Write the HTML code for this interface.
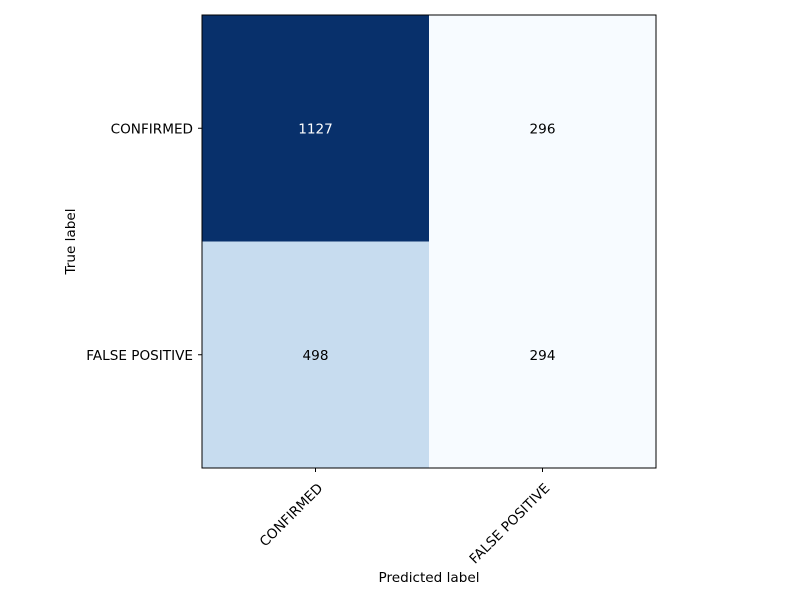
<!DOCTYPE html>
<html><head><meta charset="utf-8"><style>body{margin:0;background:#fff}svg{display:block;font-family:"DejaVu Sans","Liberation Sans",sans-serif}</style></head>
<body>
<svg id="chart" width="800" height="600" viewBox="0 0 800 600"></svg>
<script>
const classLabels = ["CONFIRMED", "FALSE POSITIVE"];
const rowConfirmed = [1127, 296];
const rowFalsePositive = [498, 294];
const matrix = [rowConfirmed, rowFalsePositive];
const NS = "http://www.w3.org/2000/svg";
const svg = document.getElementById("chart");
const L = 202, T = 15, W = 454, H = 453;
const FS = "13.6";
const n = classLabels.length;
const cw = W / n, ch = H / n;
const xc = i => L + cw * (i + 0.5);
const yc = i => T + ch * (i + 0.5);
const stops = ["#f7fbff","#deebf7","#c6dbef","#9ecae1","#6baed6","#4292c6","#2171b5","#08519c","#08306b"];
function hex(c){return [1,3,5].map(k=>parseInt(c.substr(k,2),16));}
function blues(t){t=Math.max(0,Math.min(1,t));const p=t*8,i=Math.min(7,Math.floor(p)),f=p-i;const a=hex(stops[i]),b=hex(stops[i+1]);return "rgb("+a.map((v,k)=>Math.round(v+(b[k]-v)*f)).join(",")+")";}
const all = matrix.flat(), mn = Math.min(...all), mx = Math.max(...all), thresh = mx / 2;
function el(tag, attrs, parent){const e=document.createElementNS(NS,tag);for(const k in attrs)e.setAttribute(k,attrs[k]);(parent||svg).appendChild(e);return e;}
for (let r = 0; r < n; r++) for (let c = 0; c < n; c++) {
  const v = matrix[r][c];
  const rect = el("rect",{x:L+c*cw,y:T+r*ch,width:cw+0.5,height:ch+0.5,fill:blues((v-mn)/(mx-mn))});
  
  
  const t = el("text",{x:xc(c),y:yc(r)+5,"text-anchor":"middle","font-size":FS,fill:v>thresh?"#fff":"#000"});
  t.textContent = v;
  
  
}
const frame = el("rect",{x:L,y:T,width:W,height:H,fill:"none",stroke:"#000","stroke-width":1});


for (let i = 0; i < n; i++) {
  el("line",{x1:xc(i),x2:xc(i),y1:T+H,y2:T+H+4,stroke:"#000"});
  el("line",{x1:L-4,x2:L,y1:yc(i),y2:yc(i),stroke:"#000"});
  const yl = el("text",{x:L-9,y:yc(i)+5,"text-anchor":"end","font-size":FS});
  yl.textContent = classLabels[i];
  
  
  const ax = xc(i)+8, ay = T+H+21;
  const xl = el("text",{x:ax,y:ay,"text-anchor":"end","font-size":FS,transform:"rotate(-45 "+ax+" "+ay+")"});
  xl.textContent = classLabels[i];
  
  
}
const xt = el("text",{x:L+W/2,y:582,"text-anchor":"middle","font-size":FS});
xt.textContent = "Predicted label";


const yt = el("text",{x:75,y:T+H/2,"text-anchor":"middle","font-size":FS,transform:"rotate(-90 75 "+(T+H/2)+")"});
yt.textContent = "True label";


</script>
</body></html>
